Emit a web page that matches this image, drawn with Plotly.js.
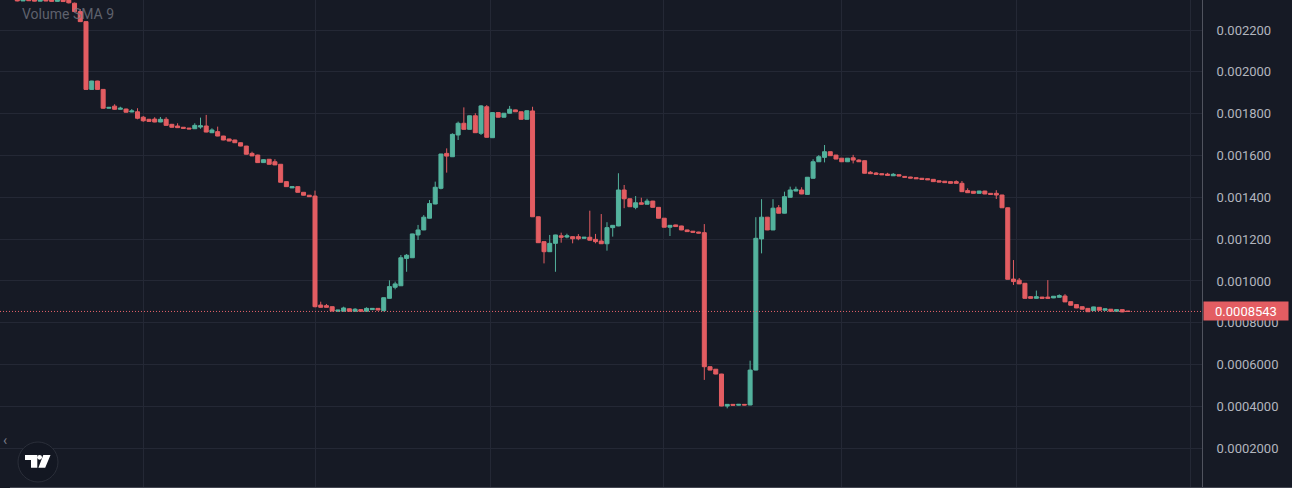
<!DOCTYPE html>
<html>
<head>
<meta charset="utf-8">
<script src="https://cdn.plot.ly/plotly-3.0.1.min.js"></script>
<style>
html,body{margin:0;padding:0;background:#161a25;}
#chart{width:1292px;height:488px;}
</style>
</head>
<body>
<div id="chart"></div>
<script>
// OHLC values (price, one entry per bar, oldest first)
const open = [
0.002350,0.002339,0.002348,0.002346,0.002338,0.002345,0.002344,0.002337,0.002346,0.002343,0.002328,0.002288,
0.002240,0.001916,0.001956,0.001916,0.001826,0.001836,0.001821,0.001822,0.001808,0.001809,0.001783,0.001773,
0.001774,0.001760,0.001773,0.001749,0.001741,0.001735,0.001731,0.001728,0.001736,0.001741,0.001709,0.001714,
0.001693,0.001679,0.001674,0.001661,0.001645,0.001610,0.001602,0.001566,0.001582,0.001570,0.001558,0.001475,
0.001445,0.001451,0.001424,0.001410,0.001406,0.000885,0.000882,0.000877,0.000855,0.000855,0.000867,0.000855,
0.000863,0.000855,0.000863,0.000869,0.000858,0.000917,0.000970,0.000977,0.001108,0.001111,0.001220,0.001244,
0.001300,0.001368,0.001443,0.001610,0.001594,0.001698,0.001754,0.001725,0.001790,0.001706,0.001833,0.001685,
0.001805,0.001783,0.001802,0.001818,0.001809,0.001773,0.001813,0.001307,0.001188,0.001140,0.001180,0.001216,
0.001210,0.001212,0.001212,0.001204,0.001209,0.001199,0.001191,0.001178,0.001255,0.001263,0.001435,0.001393,
0.001352,0.001374,0.001367,0.001382,0.001352,0.001300,0.001257,0.001268,0.001263,0.001244,0.001238,0.001234,
0.001231,0.000590,0.000578,0.000555,0.000402,0.000410,0.000406,0.000410,0.000407,0.000574,0.001201,0.001305,
0.001244,0.001350,0.001324,0.001400,0.001430,0.001435,0.001414,0.001491,0.001570,0.001591,0.001618,0.001602,
0.001587,0.001570,0.001589,0.001578,0.001575,0.001520,0.001516,0.001513,0.001511,0.001503,0.001508,0.001500,
0.001497,0.001494,0.001491,0.001489,0.001486,0.001479,0.001477,0.001475,0.001475,0.001467,0.001432,0.001429,
0.001419,0.001430,0.001419,0.001419,0.001411,0.001350,0.001009,0.001004,0.000989,0.000925,0.000917,0.000923,
0.000923,0.000919,0.000922,0.000928,0.000901,0.000887,0.000877,0.000869,0.000858,0.000874,0.000860,0.000865,
0.000855,0.000863,0.000856
];
const high = [
0.002352,0.002350,0.002350,0.002348,0.002347,0.002347,0.002346,0.002348,0.002348,0.002348,0.002331,0.002300,
0.002242,0.001957,0.001957,0.001917,0.001831,0.001845,0.001833,0.001824,0.001822,0.001826,0.001789,0.001775,
0.001783,0.001784,0.001783,0.001751,0.001754,0.001736,0.001732,0.001754,0.001781,0.001794,0.001730,0.001738,
0.001694,0.001680,0.001675,0.001662,0.001646,0.001618,0.001604,0.001582,0.001583,0.001582,0.001559,0.001476,
0.001452,0.001452,0.001425,0.001411,0.001432,0.000901,0.000890,0.000878,0.000862,0.000877,0.000868,0.000870,
0.000864,0.000874,0.000870,0.000870,0.000921,0.001003,0.000997,0.001124,0.001129,0.001226,0.001268,0.001315,
0.001387,0.001475,0.001608,0.001634,0.001706,0.001762,0.001830,0.001791,0.001802,0.001841,0.001841,0.001806,
0.001806,0.001803,0.001837,0.001819,0.001810,0.001815,0.001833,0.001308,0.001189,0.001220,0.001221,0.001231,
0.001226,0.001213,0.001224,0.001210,0.001336,0.001225,0.001320,0.001281,0.001267,0.001515,0.001459,0.001394,
0.001406,0.001398,0.001393,0.001383,0.001353,0.001301,0.001267,0.001269,0.001264,0.001245,0.001239,0.001235,
0.001272,0.000591,0.000579,0.000556,0.000411,0.000411,0.000411,0.000411,0.000619,0.001305,0.001391,0.001306,
0.001391,0.001363,0.001427,0.001451,0.001451,0.001448,0.001497,0.001582,0.001602,0.001650,0.001619,0.001603,
0.001588,0.001588,0.001603,0.001582,0.001576,0.001526,0.001521,0.001514,0.001517,0.001516,0.001509,0.001501,
0.001498,0.001495,0.001492,0.001490,0.001487,0.001480,0.001478,0.001476,0.001481,0.001478,0.001443,0.001430,
0.001431,0.001431,0.001420,0.001434,0.001412,0.001351,0.001100,0.001014,0.000990,0.000926,0.000954,0.000924,
0.001004,0.000928,0.000936,0.000937,0.000902,0.000888,0.000878,0.000870,0.000877,0.000875,0.000868,0.000866,
0.000864,0.000864,0.000857
];
const low = [
0.002337,0.002338,0.002339,0.002337,0.002337,0.002338,0.002336,0.002336,0.002335,0.002327,0.002285,0.002238,
0.001914,0.001915,0.001915,0.001824,0.001825,0.001819,0.001820,0.001805,0.001807,0.001773,0.001761,0.001762,
0.001759,0.001759,0.001743,0.001734,0.001732,0.001729,0.001726,0.001727,0.001728,0.001711,0.001707,0.001692,
0.001673,0.001668,0.001660,0.001644,0.001605,0.001597,0.001565,0.001565,0.001557,0.001554,0.001471,0.001450,
0.001444,0.001423,0.001409,0.001402,0.000874,0.000873,0.000873,0.000855,0.000854,0.000854,0.000854,0.000854,
0.000854,0.000854,0.000862,0.000860,0.000855,0.000916,0.000960,0.000976,0.001044,0.001110,0.001196,0.001243,
0.001299,0.001367,0.001438,0.001518,0.001593,0.001674,0.001724,0.001724,0.001708,0.001698,0.001686,0.001684,
0.001782,0.001782,0.001801,0.001808,0.001772,0.001772,0.001306,0.001182,0.001084,0.001139,0.001044,0.001183,
0.001204,0.001180,0.001195,0.001203,0.001194,0.001180,0.001177,0.001145,0.001212,0.001262,0.001348,0.001354,
0.001343,0.001366,0.001366,0.001351,0.001299,0.001256,0.001215,0.001259,0.001243,0.001235,0.001232,0.001228,
0.000527,0.000573,0.000554,0.000401,0.000391,0.000405,0.000405,0.000406,0.000406,0.000573,0.001132,0.001243,
0.001243,0.001323,0.001323,0.001399,0.001429,0.001415,0.001413,0.001490,0.001569,0.001567,0.001598,0.001582,
0.001569,0.001569,0.001562,0.001569,0.001514,0.001512,0.001509,0.001507,0.001504,0.001502,0.001501,0.001495,
0.001491,0.001488,0.001485,0.001483,0.001474,0.001472,0.001469,0.001466,0.001466,0.001426,0.001421,0.001418,
0.001418,0.001415,0.001413,0.001392,0.001349,0.001007,0.000981,0.000985,0.000916,0.000916,0.000916,0.000916,
0.000916,0.000918,0.000921,0.000899,0.000883,0.000870,0.000864,0.000852,0.000857,0.000859,0.000859,0.000854,
0.000854,0.000851,0.000853
];
const close = [
0.002339,0.002348,0.002340,0.002338,0.002345,0.002339,0.002337,0.002346,0.002336,0.002330,0.002288,0.002240,
0.001916,0.001956,0.001916,0.001826,0.001830,0.001821,0.001826,0.001807,0.001813,0.001778,0.001766,0.001763,
0.001760,0.001773,0.001744,0.001735,0.001733,0.001730,0.001727,0.001744,0.001742,0.001712,0.001722,0.001693,
0.001674,0.001669,0.001661,0.001645,0.001606,0.001598,0.001566,0.001580,0.001558,0.001555,0.001472,0.001451,
0.001451,0.001424,0.001410,0.001403,0.000877,0.000874,0.000874,0.000856,0.000861,0.000871,0.000855,0.000865,
0.000855,0.000869,0.000869,0.000861,0.000920,0.000973,0.000986,0.001111,0.001123,0.001225,0.001244,0.001305,
0.001370,0.001448,0.001607,0.001597,0.001701,0.001754,0.001725,0.001790,0.001709,0.001837,0.001687,0.001805,
0.001783,0.001802,0.001821,0.001809,0.001773,0.001814,0.001307,0.001183,0.001140,0.001180,0.001220,0.001209,
0.001216,0.001202,0.001202,0.001209,0.001195,0.001188,0.001178,0.001255,0.001266,0.001435,0.001393,0.001355,
0.001374,0.001367,0.001382,0.001352,0.001300,0.001257,0.001266,0.001260,0.001244,0.001236,0.001233,0.001229,
0.000590,0.000574,0.000555,0.000402,0.000410,0.000406,0.000410,0.000407,0.000574,0.001204,0.001305,0.001244,
0.001348,0.001324,0.001403,0.001435,0.001438,0.001416,0.001496,0.001570,0.001594,0.001618,0.001599,0.001583,
0.001570,0.001587,0.001578,0.001570,0.001515,0.001513,0.001510,0.001508,0.001505,0.001510,0.001502,0.001496,
0.001492,0.001489,0.001486,0.001484,0.001475,0.001473,0.001470,0.001467,0.001467,0.001427,0.001422,0.001419,
0.001430,0.001416,0.001414,0.001411,0.001350,0.001008,0.000997,0.000986,0.000917,0.000917,0.000925,0.000917,
0.000917,0.000927,0.000930,0.000900,0.000884,0.000871,0.000865,0.000853,0.000876,0.000860,0.000867,0.000855,
0.000863,0.000852,0.0008543
];

// price-scale ticks as TradingView prints them
const priceTicks = [0.0022,0.0020,0.0018,0.0016,0.0014,0.0012,0.0010,0.0008,0.0006,0.0004,0.0002];
const priceTickText = ['0.002200','0.002000','0.001800','0.001600','0.001400','0.001200','0.001000',
                       '0.0008000','0.0006000','0.0004000','0.0002000'];
// bar positions where the vertical time grid lines fall
const timeGrid = [10.1, 40, 70.7, 100.8, 131.9, 162.6, 193];

const FIRST_BAR = -12;                         // first bar sits left of the visible start
const barX = open.map((_, i) => i + FIRST_BAR);
const lastPrice = close[close.length - 1];

const UP = '#53b29d', DOWN = '#e35d62';
const W = 1202, H = 487;                        // plot-area size in px
const px = (x) => x / W;                        // decoration helpers (paper coords)
const py = (y) => (H - y) / H;

const trace = {
  type: 'candlestick',
  x: barX, open: open, high: high, low: low, close: close,
  increasing: {line: {color: UP, width: 1}, fillcolor: UP},
  decreasing: {line: {color: DOWN, width: 1}, fillcolor: DOWN},
  whiskerwidth: 0,
  hoverinfo: 'skip'
};

const logoPath =
  `M ${px(25)} ${py(455)} L ${px(37.3)} ${py(455)} L ${px(37.3)} ${py(467.7)} L ${px(31)} ${py(467.7)} ` +
  `L ${px(31)} ${py(460)} L ${px(25)} ${py(460)} Z ` +
  `M ${px(43.3)} ${py(455)} L ${px(50.5)} ${py(455)} L ${px(45.2)} ${py(467.7)} L ${px(38.4)} ${py(467.7)} Z`;

const layout = {
  width: 1292, height: 488,
  paper_bgcolor: '#161a25', plot_bgcolor: '#161a25',
  margin: {l: 0, r: 90, t: 0, b: 1, pad: 0},
  showlegend: false,
  boxgap: 0.3, boxgroupgap: 0,
  font: {family: 'Roboto, "Open Sans", sans-serif', color: '#b2b5be', size: 13},
  xaxis: {
    range: [-15.02, 194.93], rangeslider: {visible: false},
    tickvals: timeGrid, showticklabels: false, ticks: '',
    showgrid: true, gridcolor: '#242835', gridwidth: 1,
    zeroline: false, showline: false, fixedrange: true
  },
  yaxis: {
    side: 'right', range: [0.0000149, 0.00234344],
    tickvals: priceTicks, ticktext: priceTickText, ticks: '',
    ticklabelstandoff: 11,
    tickfont: {size: 13, color: '#b2b5be', family: 'Roboto, sans-serif'},
    showgrid: true, gridcolor: '#242835', gridwidth: 1,
    zeroline: false, showline: true, linecolor: '#50535e', linewidth: 1, mirror: false,
    fixedrange: true
  },
  shapes: [
    {type: 'line', xref: 'paper', yref: 'y', x0: 0, x1: 1, y0: lastPrice, y1: lastPrice,
     line: {color: '#e8636b', width: 1, dash: '1px,2px'}, layer: 'above'},
    {type: 'line', xref: 'paper', yref: 'paper', x0: px(10), x1: px(1292), y0: py(487.5), y1: py(487.5),
     line: {color: '#434651', width: 1}},
    {type: 'circle', xref: 'paper', yref: 'paper', x0: px(18), x1: px(58), y0: py(482), y1: py(442),
     fillcolor: '#131722', line: {color: '#2a2e39', width: 1}},
    {type: 'path', xref: 'paper', yref: 'paper', path: logoPath, fillcolor: '#ffffff', line: {width: 0}},
    {type: 'circle', xref: 'paper', yref: 'paper', x0: px(37.2), x1: px(42), y0: py(459.7), y1: py(455),
     fillcolor: '#ffffff', line: {width: 0}}
  ],
  annotations: [
    {xref: 'paper', yref: 'y', x: 1, y: lastPrice, xanchor: 'left', yanchor: 'middle', xshift: 1,
     text: lastPrice.toFixed(7), showarrow: false,
     font: {color: '#ffffff', size: 13, family: 'Roboto, sans-serif'},
     bgcolor: DOWN, borderpad: 2, width: 80, height: 14, align: 'center'},
    {xref: 'paper', yref: 'paper', x: px(20), y: py(14), xanchor: 'left', yanchor: 'middle',
     text: 'Volume SMA 9', showarrow: false,
     font: {color: 'rgba(120,123,134,0.75)', size: 14, family: 'Roboto, sans-serif'}},
    {xref: 'paper', yref: 'paper', x: px(5), y: py(440), xanchor: 'center', yanchor: 'middle',
     text: '‹', showarrow: false, font: {color: '#787b86', size: 14}}
  ]
};

Plotly.newPlot('chart', [trace], layout, {staticPlot: true, displayModeBar: false});
</script>
</body>
</html>
